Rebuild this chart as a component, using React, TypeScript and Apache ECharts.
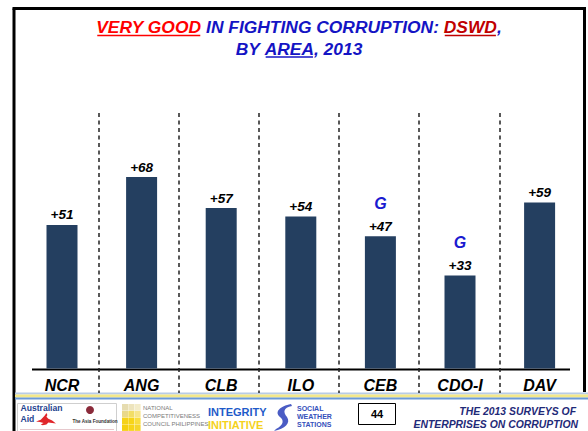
import React, { useEffect, useRef } from "react";
import * as echarts from "echarts";

const categories = ["NCR", "ANG", "CLB", "ILO", "CEB", "CDO-I", "DAV"];
const values = [51, 68, 57, 54, 47, 33, 59];
const significance = ["", "", "", "", "G", "G", ""];

const BLUE = "#1414c4";
const titleLine1 = [
  { text: "VERY GOOD", color: "#ff0000", underline: true },
  { text: " IN FIGHTING CORRUPTION: ", color: BLUE, underline: false },
  { text: "DSWD", color: "#c00000", underline: true },
  { text: ",", color: BLUE, underline: false },
];
const titleLine2 = [
  { text: "BY ", color: BLUE, underline: false },
  { text: "AREA", color: BLUE, underline: true },
  { text: ", 2013", color: BLUE, underline: false },
];
const footerRight = ["THE 2013 SURVEYS OF", "ENTERPRISES ON CORRUPTION"];
const pageNumber = "44";

echarts.graphic.registerShape(
  "kangaroo",
  echarts.graphic.extendPath(
    "M0 9 L5 7 L9 3 L11 0 L12 2 L11 4 L13 6 L17 8 L21 11 L17 10.5 L13 10 L11 12 L7 13 L5 12 L8 10.5 L4 9.5 Z",
    {}
  )
);
echarts.graphic.registerShape(
  "swoosh",
  echarts.graphic.extendPath(
    "M17 0 C6 2 0 8 6 13 C10 16 10 21 2 25 L0 27 C11 25 17 19 13 13 C9 8 9 4 18 2 Z",
    {}
  )
);

const FONT = '"Liberation Sans", Arial, sans-serif';

function titleElements() {
  const canvas = document.createElement("canvas");
  const ctx = canvas.getContext("2d") as CanvasRenderingContext2D;
  const fs = 17.4;
  const font = `italic bold ${fs}px ${FONT}`;
  ctx.font = font;
  const els: any[] = [];
  const lines = [
    { segs: titleLine1, y: 27 },
    { segs: titleLine2, y: 48.5 },
  ];
  lines.forEach((line) => {
    const widths = line.segs.map((s) => ctx.measureText(s.text).width);
    const total = widths.reduce((a, b) => a + b, 0);
    let x = 299 - total / 2;
    line.segs.forEach((s, i) => {
      els.push({
        type: "text",
        x,
        y: line.y,
        style: {
          text: s.text,
          fill: s.color,
          font,
          textAlign: "left",
          align: "left",
          textVerticalAlign: "middle",
          verticalAlign: "middle",
        },
      });
      if (s.underline) {
        els.push({
          type: "line",
          shape: { x1: x + 1, y1: line.y + 8.5, x2: x + widths[i] - 1, y2: line.y + 8.5 },
          style: { stroke: s.color, lineWidth: 1.6 },
        });
      }
      x += widths[i];
    });
  });
  return els;
}

function txt(x: number, y: number, text: string, font: string, fill: string, align = "left") {
  return {
    type: "text",
    x,
    y,
    style: {
      text,
      font,
      fill,
      textAlign: align,
      align,
      textVerticalAlign: "middle",
      verticalAlign: "middle",
    },
  };
}

function footerElements() {
  const els: any[] = [];
  // separator band
  els.push({ type: "rect", shape: { x: 15, y: 392.5, width: 573, height: 2 }, style: { fill: "#b8cce6" } });
  els.push({ type: "rect", shape: { x: 15, y: 394.5, width: 573, height: 3 }, style: { fill: "#f3e88a" } });
  els.push({ type: "rect", shape: { x: 15, y: 397.5, width: 573, height: 2 }, style: { fill: "#6a9ad8" } });
  // Australian Aid / Asia Foundation box
  els.push({ type: "rect", shape: { x: 17.5, y: 403.5, width: 99, height: 30 }, style: { fill: "#fff", stroke: "#cfcfcf", lineWidth: 1 } });
  els.push(txt(20.5, 408, "Australian", `bold 8.6px ${FONT}`, "#24428f"));
  els.push(txt(20.5, 418.5, "Aid", `bold 8.6px ${FONT}`, "#24428f"));
  els.push({ type: "kangaroo", x: 36, y: 413, scaleX: 0.95, scaleY: 0.95, style: { fill: "#e0262b" } });
  els.push({ type: "circle", shape: { cx: 90, cy: 410, r: 4 }, style: { fill: "#8a2a3a" } });
  els.push(txt(95, 421, "The Asia Foundation", `bold 4.6px ${FONT}`, "#333", "center"));
  els.push({ type: "rect", shape: { x: 20, y: 429, width: 94, height: 1 }, style: { fill: "#e6c8cc" } });
  // NCC logo
  const sq = [
    [0, 0, "#e6dcb0"], [1, 0, "#ede4bd"], [2, 0, "#f3ecc9"],
    [0, 1, "#e9d88a"], [1, 1, "#f2dd66"], [2, 1, "#f7e58a"],
    [0, 2, "#f5d21a"], [1, 2, "#f7d418"], [2, 2, "#f9dd3e"],
    [0, 3, "#f5d010"], [1, 3, "#f7d418"], [2, 3, "#f5d52a"],
  ];
  sq.forEach(([c, r, col]) => {
    els.push({ type: "rect", shape: { x: 122 + (c as number) * 6.3, y: 404 + (r as number) * 6.8, width: 6, height: 6.5 }, style: { fill: col as string } });
  });
  els.push(txt(143, 407.5, "NATIONAL", `6px ${FONT}`, "#7a7a7a"));
  els.push(txt(143, 415.5, "COMPETITIVENESS", `6px ${FONT}`, "#7a7a7a"));
  els.push(txt(143, 424, "COUNCIL PHILIPPINES", `6px ${FONT}`, "#7a7a7a"));
  // Integrity Initiative
  els.push(txt(208, 412, "INTEGRITY", `bold 11px ${FONT}`, "#1f5bc9"));
  els.push(txt(208, 425, "INITIATIVE", `bold 11px ${FONT}`, "#f5d21c"));
  // SWS
  els.push({ type: "swoosh", x: 274, y: 404, scaleX: 1, scaleY: 1, style: { fill: "#4a5cc4" } });
  els.push(txt(297, 408, "SOCIAL", `bold 7px ${FONT}`, "#3550bb"));
  els.push(txt(297, 416, "WEATHER", `bold 7px ${FONT}`, "#3550bb"));
  els.push(txt(297, 424, "STATIONS", `bold 7px ${FONT}`, "#3550bb"));
  // page number
  els.push({ type: "rect", shape: { x: 358.5, y: 403.5, width: 37, height: 21 }, style: { fill: "#fff", stroke: "#000", lineWidth: 1 } });
  els.push(txt(377, 414, pageNumber, `bold 11px ${FONT}`, "#000", "center"));
  // right text
  els.push(txt(576, 411, footerRight[0], `italic bold 10.4px ${FONT}`, "#1f2a78", "right"));
  els.push(txt(578, 424.5, footerRight[1], `italic bold 10.4px ${FONT}`, "#1f2a78", "right"));
  return els;
}

export default function App() {
  const ref = useRef<HTMLDivElement>(null);
  useEffect(() => {
    if (!ref.current) return;
    const chart = echarts.init(ref.current, undefined, { renderer: "svg" });
    const frame = [
      { type: "line", shape: { x1: 12.5, y1: 8.5, x2: 586, y2: 8.5 }, style: { stroke: "#000", lineWidth: 3 } },
      { type: "line", shape: { x1: 14, y1: 8.5, x2: 14, y2: 431 }, style: { stroke: "#000", lineWidth: 3 } },
      { type: "line", shape: { x1: 584.5, y1: 8.5, x2: 584.5, y2: 392 }, style: { stroke: "#000", lineWidth: 3 } },
      { type: "line", shape: { x1: 32, y1: 369.5, x2: 570, y2: 369.5 }, style: { stroke: "#000", lineWidth: 2 } },
    ];
    chart.setOption({
      animation: false,
      backgroundColor: "#fff",
      grid: [
        { left: 22.2, top: 87, width: 557.2, height: 281.5 },
        { left: 18.1, top: 113, width: 561.4, height: 280 },
      ],
      xAxis: [
        {
          type: "category",
          gridIndex: 0,
          data: categories,
          axisLine: { show: false },
          axisTick: { show: false },
          splitLine: { show: false },
          axisLabel: {
            margin: 9,
            color: "#000",
            fontFamily: FONT,
            fontSize: 16,
            fontWeight: "bold",
            fontStyle: "italic",
          },
        },
        {
          type: "value",
          gridIndex: 1,
          min: 0,
          max: 7,
          interval: 1,
          axisLine: { show: false },
          axisTick: { show: false },
          axisLabel: { show: false },
          splitLine: {
            show: true,
            showMinLine: false,
            showMaxLine: false,
            lineStyle: { color: "#222", width: 1.5, type: [4, 3.5] },
          },
        },
      ],
      yAxis: [
        { type: "value", gridIndex: 0, min: 0, max: 100, show: false },
        { type: "value", gridIndex: 1, min: 0, max: 1, show: false },
      ],
      series: [
        {
          type: "bar",
          xAxisIndex: 0,
          yAxisIndex: 0,
          data: values,
          barWidth: 31,
          itemStyle: { color: "#243f60" },
          label: {
            show: true,
            position: "top",
            distance: 2,
            formatter: (p: any) => {
              const v = `{v|+${p.value}}`;
              const s = significance[p.dataIndex];
              return s ? `{g|${s}}\n${v}` : v;
            },
            rich: {
              v: {
                fontFamily: FONT,
                fontSize: 13.5,
                fontWeight: "bold",
                fontStyle: "italic",
                color: "#000",
                lineHeight: 16,
              },
              g: {
                fontFamily: FONT,
                fontSize: 16,
                fontWeight: "bold",
                fontStyle: "italic",
                color: "#1a1ad0",
                lineHeight: 30,
              },
            },
          },
        },
      ],
      graphic: { elements: [...frame, ...titleElements(), ...footerElements()] },
    });
    return () => chart.dispose();
  }, []);
  return (
    <div
      ref={ref}
      style={{ position: "fixed", left: 0, top: 0, width: 588, height: 431 }}
    />
  );
}
